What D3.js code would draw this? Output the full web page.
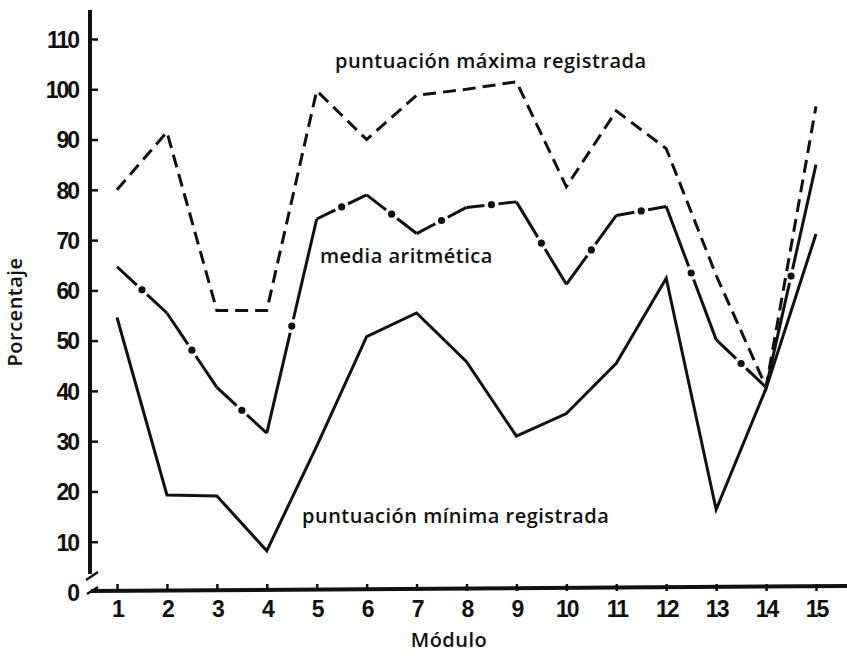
<!DOCTYPE html>
<html lang="es">
<head>
<meta charset="UTF-8">
<title>Porcentaje por módulo</title>
<script src="https://cdnjs.cloudflare.com/ajax/libs/d3/7.8.5/d3.min.js"></script>
<style>
  body { margin: 0; background: #fff; }
  svg text { font-family: "Open Sans", "DejaVu Sans", sans-serif; fill: #111; }
  .tick text { font-size: 23px; font-weight: bold; letter-spacing: -2px; font-family: "Liberation Sans", Arial, sans-serif; }
  .lbl { font-size: 20px; font-weight: 600; letter-spacing: 0.5px; }
</style>
</head>
<body>
<div id="chart"></div>
<script>
// modules 1..15
const modulos = d3.range(1, 16);
const maxima = [80, 91.5, 56, 56, 99.7, 90, 98.8, 100, 101.5, 80.6, 95.7, 88.2, 63, 40.8, 96.6];
const media  = [64.7, 55.5, 40.7, 31.6, 74.2, 79, 71.3, 76.5, 77.6, 61.2, 74.9, 76.7, 50.2, 40.7, 85];
const minima = [54.6, 19.3, 19.1, 8.2, 29, 50.8, 55.5, 45.8, 31, 35.5, 45.5, 62.4, 16.4, 40.5, 71.2];
const yTicks = [0, 10, 20, 30, 40, 50, 60, 70, 80, 90, 100, 110];

const width = 847, height = 659;
const svg = d3.select("#chart").append("svg")
    .attr("width", width).attr("height", height);

const x = d3.scaleLinear().domain([1, 15]).range([117, 816]);
const y = d3.scaleLinear().domain([0, 110]).range([592, 39]);
const axisX = 90, axisY = 591;

// y axis
const gy = svg.append("g").attr("transform", `translate(${axisX},0)`)
    .call(d3.axisLeft(y).tickValues(yTicks).tickSize(-8).tickPadding(12));
gy.select(".domain").remove();
gy.selectAll(".tick line").attr("stroke", "#111").attr("stroke-width", 2.5)
    .filter(d => d === 0).remove();
gy.selectAll(".tick text").attr("dy", "0.36em");

// x axis
const gx = svg.append("g").attr("transform", `translate(0,${axisY})`)
    .call(d3.axisBottom(x).tickValues(modulos).tickSize(-7).tickPadding(10));
gx.select(".domain").remove();
gx.selectAll(".tick line").attr("stroke", "#111").attr("stroke-width", 2.5);

// axis lines with break marks
svg.append("line").attr("x1", axisX).attr("x2", axisX).attr("y1", 10).attr("y2", 574)
    .attr("stroke", "#111").attr("stroke-width", 4);
svg.append("line").attr("x1", 86).attr("y1", 580).attr("x2", 98).attr("y2", 572)
    .attr("stroke", "#111").attr("stroke-width", 2.5);
svg.append("line").attr("x1", 87).attr("y1", 594).attr("x2", 98).attr("y2", 587)
    .attr("stroke", "#111").attr("stroke-width", 2.5);
svg.append("line").attr("x1", 91).attr("x2", width).attr("y1", axisY).attr("y2", axisY - 5)
    .attr("stroke", "#111").attr("stroke-width", 4);

const line = d3.line().x((d, i) => x(modulos[i])).y(d => y(d));

// maximum: dashed
svg.append("path").datum(maxima).attr("d", line)
    .attr("fill", "none").attr("stroke", "#111").attr("stroke-width", 3)
    .attr("stroke-dasharray", "13 7");

// minimum: solid
svg.append("path").datum(minima).attr("d", line)
    .attr("fill", "none").attr("stroke", "#111").attr("stroke-width", 3);

// mean: solid segments broken by a dot at each midpoint
const segs = d3.pairs(media.map((v, i) => [x(modulos[i]), y(v)]));
svg.append("g").selectAll("line").data(segs).join("line")
    .attr("x1", d => d[0][0]).attr("y1", d => d[0][1])
    .attr("x2", d => d[1][0]).attr("y2", d => d[1][1])
    .attr("stroke", "#111").attr("stroke-width", 3).attr("fill", "none")
    .attr("stroke-dasharray", d => {
        const L = Math.hypot(d[1][0] - d[0][0], d[1][1] - d[0][1]);
        return `${L / 2 - 7} 14 ${L}`;
    });
svg.append("g").selectAll("circle").data(segs).join("circle")
    .attr("cx", d => (d[0][0] + d[1][0]) / 2)
    .attr("cy", d => (d[0][1] + d[1][1]) / 2)
    .attr("r", 3.6).attr("fill", "#111");

// labels
svg.append("text").attr("class", "lbl").attr("x", 335).attr("y", 68).text("puntuación máxima registrada");
svg.append("text").attr("class", "lbl").attr("x", 320).attr("y", 263).text("media aritmética");
svg.append("text").attr("class", "lbl").attr("x", 302).attr("y", 523).text("puntuación mínima registrada");
svg.append("text").attr("class", "lbl").attr("x", 449).attr("y", 647)
    .attr("text-anchor", "middle").text("Módulo");
svg.append("text").attr("class", "lbl")
    .attr("transform", "translate(22,312) rotate(-90)")
    .attr("text-anchor", "middle").text("Porcentaje");
</script>
</body>
</html>
